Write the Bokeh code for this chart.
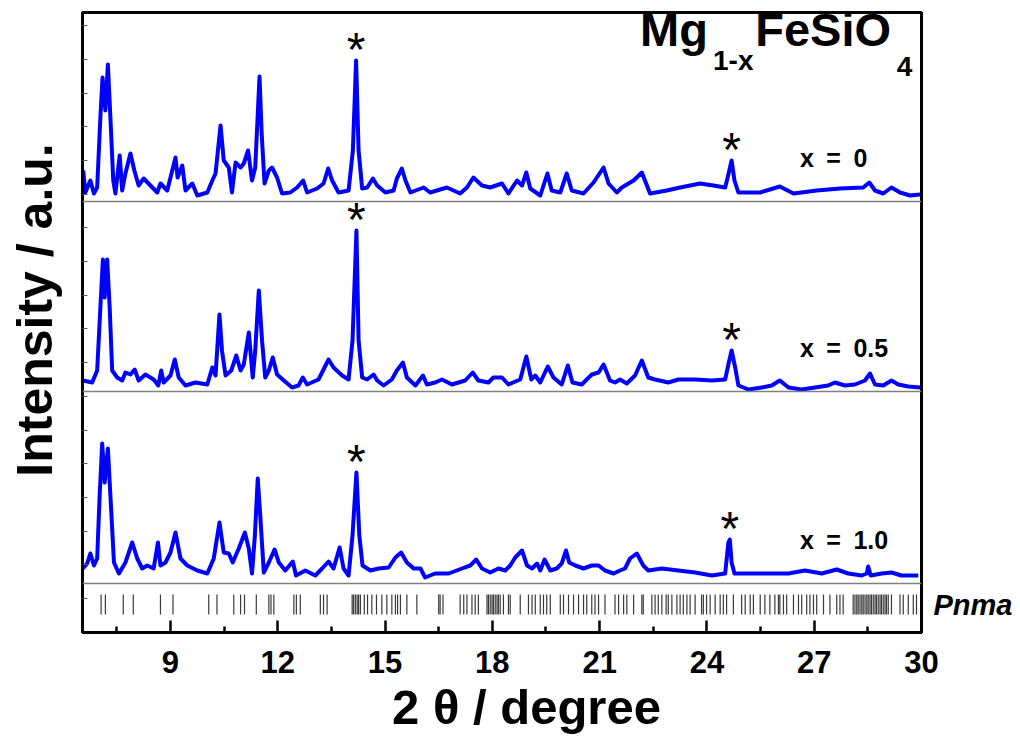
import numpy as np
from bokeh.plotting import figure
from bokeh.models import Range1d, FixedTicker, Span, Label, ColumnDataSource, LinearAxis
from bokeh.embed import file_html
from bokeh.resources import INLINE

# ---------------- data (2theta in degree, intensity in a.u. above each baseline) ----------------
tt_x0 = [6.56,6.62,6.76,6.86,6.95,7.04,7.10,7.18,7.25,7.32,
         7.40,7.46,7.58,7.65,7.74,7.88,7.99,8.11,8.25,8.44,
         8.63,8.72,8.91,9.14,9.20,9.33,9.42,9.61,9.75,10.03,
         10.17,10.26,10.40,10.49,10.63,10.72,10.82,10.96,11.05,11.17,
         11.28,11.37,11.49,11.55,11.63,11.75,11.84,11.98,12.12,12.35,
         12.54,12.71,12.82,13.10,13.28,13.41,13.52,13.70,13.98,14.10,
         14.19,14.26,14.36,14.50,14.66,14.78,15.01,15.24,15.33,15.47,
         15.57,15.71,16.08,16.26,16.73,17.10,17.29,17.47,17.71,17.94,
         18.27,18.45,18.69,18.83,18.95,19.06,19.34,19.54,19.66,19.90,
         20.08,20.22,20.55,20.83,21.11,21.25,21.48,21.62,21.95,22.18,
         22.41,22.88,23.25,23.81,24.18,24.51,24.58,24.69,24.77,24.88,
         25.49,26.04,26.42,27.07,27.72,28.37,28.54,28.70,28.93,29.16,
         29.40,29.68,29.96]
int_x0 = [31,9,21,8,14,84,124,91,137,84,
          21,8,46,11,28,48,31,16,23,16,
          9,18,11,44,24,36,11,18,6,9,
          21,28,76,41,34,9,39,34,38,51,
          21,34,125,68,18,31,34,24,8,9,
          14,21,9,13,18,33,21,9,11,51,
          141,51,13,14,23,16,9,11,23,33,
          21,9,14,9,14,8,14,24,16,14,
          18,8,21,16,29,13,6,28,11,9,
          28,11,8,19,34,18,9,14,21,29,
          8,11,14,18,16,14,24,41,21,9,
          9,15,8,11,13,14,19,11,8,14,
          9,6,7]

tt_x05 = [6.55,6.81,6.95,7.04,7.11,7.16,7.23,7.30,7.37,7.51,
          7.65,7.74,7.88,8.00,8.11,8.30,8.53,8.66,8.74,8.81,
          9.00,9.12,9.23,9.42,9.70,10.03,10.17,10.26,10.37,10.44,
          10.54,10.70,10.84,10.96,11.05,11.19,11.30,11.37,11.47,11.56,
          11.65,11.75,11.86,11.98,12.17,12.40,12.58,12.70,12.82,13.14,
          13.42,13.56,13.80,13.98,14.09,14.20,14.26,14.36,14.50,14.68,
          14.78,14.96,15.19,15.33,15.50,15.61,15.85,16.06,16.17,16.40,
          16.59,16.87,17.24,17.45,17.61,17.89,18.03,18.27,18.45,18.78,
          18.95,19.09,19.20,19.34,19.55,19.71,19.94,20.11,20.24,20.50,
          20.78,20.97,21.11,21.29,21.43,21.57,21.76,21.99,22.18,22.36,
          22.55,22.92,23.20,23.67,24.14,24.51,24.60,24.69,24.79,24.88,
          25.16,25.53,25.81,26.04,26.28,26.65,27.02,27.39,27.58,27.86,
          28.14,28.42,28.56,28.70,28.93,29.16,29.35,29.63,29.96]
int_x05 = [11,9,21,84,132,94,132,84,21,14,
           11,19,17,22,11,17,12,6,21,9,
           16,32,14,6,9,7,24,16,77,41,
           16,21,36,21,27,59,14,41,101,51,
           14,21,34,17,11,4,6,14,7,12,
           32,24,16,12,51,161,51,14,12,17,
           11,6,12,21,29,14,6,16,7,9,
           12,7,11,19,11,9,14,14,7,12,
           35,12,16,9,25,14,7,26,9,7,
           17,19,27,11,9,12,8,16,31,14,
           12,9,12,12,11,12,27,41,24,6,
           2,4,6,11,4,2,4,6,9,6,
           7,11,18,7,6,11,7,5,4]

tt_x10 = [6.55,6.67,6.76,6.86,6.95,7.02,7.09,7.16,7.25,7.32,
          7.42,7.56,7.74,7.93,8.07,8.21,8.35,8.53,8.65,8.72,
          8.86,9.00,9.14,9.28,9.47,9.75,10.03,10.21,10.37,10.49,
          10.63,10.74,10.91,11.08,11.19,11.28,11.36,11.44,11.51,11.61,
          11.75,11.91,12.03,12.21,12.42,12.51,12.77,13.05,13.24,13.42,
          13.56,13.73,13.84,13.98,14.09,14.20,14.28,14.37,14.59,14.82,
          15.10,15.29,15.45,15.61,15.80,15.99,16.12,16.40,16.78,17.15,
          17.38,17.55,17.71,17.94,18.17,18.36,18.50,18.64,18.83,18.97,
          19.11,19.25,19.34,19.46,19.62,19.80,19.94,20.06,20.15,20.32,
          20.55,20.78,20.97,21.15,21.39,21.57,21.71,21.85,22.04,22.22,
          22.36,22.74,23.20,23.67,24.14,24.51,24.60,24.64,24.69,24.77,
          25.16,25.72,26.28,26.74,27.21,27.63,27.95,28.33,28.47,28.51,
          28.58,28.89,29.16,29.44,29.91]
int_x10 = [15,20,30,18,25,88,140,101,135,88,
           21,10,21,41,25,15,18,15,41,18,
           21,31,51,25,18,13,10,25,61,31,
           30,21,35,51,35,10,48,105,68,11,
           21,34,21,13,22,8,13,8,15,22,
           15,36,15,8,48,111,48,18,13,15,
           16,26,31,21,15,15,6,10,10,15,
           18,24,15,11,15,13,18,26,33,18,
           15,20,13,24,13,15,20,33,21,18,
           15,18,18,13,10,13,15,25,30,18,
           13,15,13,11,8,10,41,44,21,10,
           10,10,10,13,10,14,10,8,10,17,
           8,10,11,8,8]

series_names = ["x = 0", "x = 0.5", "x = 1.0"]
series_tt = [tt_x0, tt_x05, tt_x10]
series_int = [int_x0, int_x05, int_x10]
series_offsets = [431, 241, 49]          # vertical stacking offsets (a.u.)
star_positions = [14.2, 24.7]            # impurity reflections marked with *

# reference reflection positions, Pnma
pnma_ticks = [7.06,7.18,7.68,7.96,8.72,9.07,10.07,10.30,10.77,10.96,11.07,11.40,11.75,11.81,11.89,
              12.45,12.52,12.63,13.19,13.28,13.38,14.08,14.12,14.17,14.22,14.26,14.31,14.42,14.51,
              14.63,14.76,14.91,15.05,15.19,15.29,15.35,15.43,15.61,15.89,16.50,16.54,16.62,17.10,
              17.20,17.29,17.43,17.52,17.61,17.85,17.89,17.94,17.99,18.03,18.08,18.13,18.17,18.22,
              18.31,18.45,18.50,18.78,19.01,19.11,19.20,19.34,19.43,19.52,19.62,19.90,19.99,20.13,
              20.27,20.41,20.55,20.64,20.78,20.87,20.97,21.15,21.43,21.53,21.67,21.76,21.95,22.18,
              22.22,22.46,22.55,22.64,22.74,22.86,22.92,23.02,23.16,23.25,23.34,23.44,23.53,23.67,
              23.85,23.90,23.99,24.09,24.23,24.37,24.46,24.55,24.74,24.97,25.07,25.21,25.30,25.49,
              25.62,25.76,25.90,26.00,26.04,26.14,26.23,26.42,26.56,26.65,26.79,26.88,26.98,27.07,
              27.26,27.44,27.63,27.72,27.81,28.09,28.14,28.19,28.23,28.28,28.33,28.37,28.42,28.47,
              28.51,28.56,28.60,28.65,28.70,28.74,28.79,28.84,28.88,28.93,28.98,29.02,29.07,29.16,
              29.40,29.49,29.63,29.77,29.86]
phase_label = "Pnma"
phase_label_y = 28

x_major_ticks = [9, 12, 15, 18, 21, 24, 27, 30]
x_minor_ticks = [7.5, 10.5, 13.5, 16.5, 19.5, 22.5, 25.5, 28.5]

# ---------------- figure ----------------
FONT = "Liberation Sans"
X0, X1 = 6.54, 30.0
Y0, Y1 = 0, 620

p = figure(width=1020, height=736, output_backend="svg", toolbar_location=None,
           x_range=Range1d(X0, X1), y_range=Range1d(Y0, Y1),
           min_border_left=82, min_border_right=99, min_border_top=12, min_border_bottom=104)
p.background_fill_color = "white"
p.border_fill_color = "white"
p.grid.visible = False
p.outline_line_color = "black"
p.outline_line_width = 3

xa = p.xaxis[0]
xa.ticker = FixedTicker(ticks=x_major_ticks, minor_ticks=x_minor_ticks)
xa.axis_line_width = 3
xa.major_tick_in = 12
xa.major_tick_out = 0
xa.minor_tick_in = 6
xa.minor_tick_out = 0
xa.major_tick_line_width = 2.5
xa.minor_tick_line_width = 2.5
xa.major_label_text_font = FONT
xa.major_label_text_font_style = "bold"
xa.major_label_text_font_size = "31px"
xa.major_label_text_color = "black"
xa.major_label_standoff = 18
xa.axis_label = "\u20032 \u03b8 / degree"
xa.axis_label_text_font = FONT
xa.axis_label_text_font_style = "bold"
xa.axis_label_text_font_size = "49px"
xa.axis_label_text_color = "black"
xa.axis_label_standoff = 4

ya = p.yaxis[0]
ya.ticker = FixedTicker(ticks=[], minor_ticks=list(np.arange(34, 620, 33.7)))
ya.axis_line_width = 3
ya.minor_tick_in = 5
ya.minor_tick_out = 0
ya.minor_tick_line_width = 1
ya.minor_tick_line_color = "#555555"
ya.axis_label = "\u2002Intensity / a.u."
ya.axis_label_text_font = FONT
ya.axis_label_text_font_style = "bold"
ya.axis_label_text_font_size = "50px"
ya.axis_label_text_color = "black"
ya.axis_label_standoff = 20

# right axis only carries the phase name next to the reflection marks
ra = LinearAxis(ticker=FixedTicker(ticks=[phase_label_y], minor_ticks=[]),
                major_label_overrides={phase_label_y: phase_label})
ra.axis_line_color = None
ra.major_tick_line_color = None
ra.major_label_text_font = FONT
ra.major_label_text_font_style = "bold italic"
ra.major_label_text_font_size = "29px"
ra.major_label_text_color = "black"
ra.major_label_standoff = 6
p.add_layout(ra, "right")

# reference reflections
tick_src = ColumnDataSource(dict(x=pnma_ticks))
p.segment(x0="x", x1="x", y0=18, y1=38, source=tick_src, line_color="#3a3a3a", line_width=1.2)

for name, tt, inten, off in zip(series_names, series_tt, series_int, series_offsets):
    p.add_layout(Span(location=off, dimension="width", line_color="#808080", line_width=1.5))
    yy = [off + v for v in inten]
    p.line(tt, yy, line_color="#0000FF", line_width=4, line_join="round")
    p.add_layout(Label(x=26.60, y=off + 30, text=name.replace(" ", "\u2002"), text_font=FONT,
                       text_font_style="bold", text_font_size="25px", text_color="black"))
    arr_t = np.array(tt)
    arr_i = np.array(inten)
    for sx in star_positions:
        m = np.abs(arr_t - sx) < 0.2
        k = np.argmax(np.where(m, arr_i, -1))
        p.add_layout(Label(x=arr_t[k], y=off + arr_i[k] - 15, text="*", text_align="center",
                           text_font=FONT, text_font_size="48px", text_color="black"))

# title with sub-scripts
p.add_layout(Label(x=22.13, y=577, text="Mg", text_font=FONT, text_font_style="bold",
                   text_font_size="47px", text_color="black"))
p.add_layout(Label(x=24.17, y=557, text="1-x", text_font=FONT, text_font_style="bold",
                   text_font_size="28px", text_color="black"))
p.add_layout(Label(x=25.35, y=577, text="FeSiO", text_font=FONT, text_font_style="bold",
                   text_font_size="47px", text_color="black"))
p.add_layout(Label(x=29.31, y=557, text="4", text_font=FONT, text_font_style="bold",
                   text_font_size="28px", text_color="black"))

open("out.html", "w").write(file_html(p, INLINE))
